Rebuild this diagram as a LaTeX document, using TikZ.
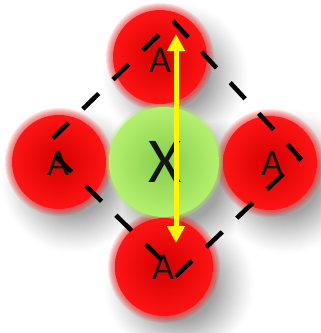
\documentclass[tikz,border=0pt]{standalone}
\usepackage{fontspec}
\setmainfont{Carlito}
\usetikzlibrary{arrows.meta}
\definecolor{ballred}{RGB}{212,0,0}
\definecolor{ballrim}{RGB}{255,20,20}
\definecolor{ballgreen}{RGB}{135,205,75}
\definecolor{ballgreenrim}{RGB}{180,240,110}
\definecolor{arrowyellow}{RGB}{255,245,0}
\tikzset{
  redball/.style={circle, inner sep=0pt, minimum size=#1, inner color=ballred, outer color=ballrim},
  greenball/.style={circle, inner sep=0pt, minimum size=#1, inner color=ballgreen, outer color=ballgreenrim},
  letterA/.style={font=\fontsize{38}{40}\selectfont, text=black!92, inner sep=0pt},
  letterX/.style={font=\fontsize{64}{66}\selectfont, text=black!92, inner sep=0pt},
  edgedash/.style={line width=4.5pt, dash pattern=on 22pt off 20pt, dash phase=31pt, black},
  bond/.style={line width=5pt, arrowyellow, {Triangle[width=17pt,length=17pt]}-{Triangle[width=17pt,length=17pt]}}
}
\begin{document}
\begin{tikzpicture}[x=1pt,y=-1pt]
\useasboundingbox (0,0) rectangle (321,333);
\fill[white] (0,0) rectangle (321,333);
% soft shadow of the whole group
\foreach \k in {0,...,18} {
  \pgfmathsetmacro\rr{40*(1-\k/18)-12}
  \pgfmathsetmacro\gg{36*(\k/18)^1.3}
  \foreach \cx/\cy/\r in {160/57/47, 59/162/47, 270/163/47, 164/267/49, 164/162/55}
    \fill[black!\gg!white] (\cx+15,\cy+18) circle[radius=\r+\rr];
}
% glows
\foreach \cx/\cy/\r in {160/57/47, 59/162/47, 270/163/47, 164/267/49}
  \foreach \j in {1,...,7}
    \fill[red!90!white, opacity=0.11] (\cx,\cy) circle[radius=\r+\j];
\foreach \j in {1,...,4}
  \fill[ballgreenrim, opacity=0.15] (164,162) circle[radius=55+\j];
% balls
\node[greenball=110pt] (X) at (164,162) {};
\node[redball=94pt] (At) at (160,57) {};
\node[redball=94pt] (Al) at (59,162) {};
\node[redball=94pt] (Ar) at (270,163) {};
\node[redball=98pt] (Ab) at (164,267) {};
% labels
\node[letterA] (tA) at (160,60) {A};
\node[letterA] (lA) at (58,163) {A};
\node[letterA] (rA) at (272,163) {A};
\node[letterA] (bA) at (163,267) {A};
\node[letterX] (tX) at (165,162) {X};
% dashed square
\coordinate (vL) at (45,146);
\coordinate (vT) at (173,21);
\coordinate (vR) at (300,158);
\coordinate (vB) at (177,275);
\draw[edgedash] (vL) -- (vT) -- (vR) -- (vB) -- cycle;
% yellow arrow
\coordinate (aT) at (176,34);
\coordinate (aB) at (176,243);
\draw[bond] (aT) -- (aB);
\end{tikzpicture}
\end{document}
